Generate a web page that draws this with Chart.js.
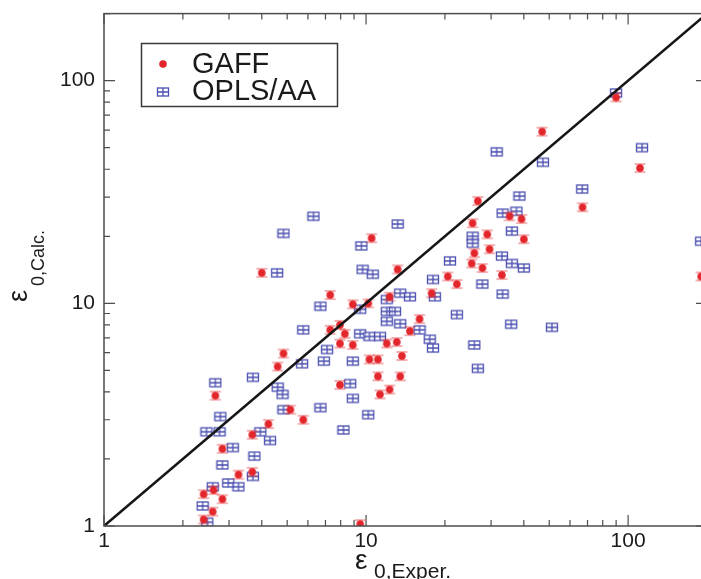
<!DOCTYPE html>
<html>
<head>
<meta charset="utf-8">
<script src="https://cdn.jsdelivr.net/npm/chart.js@4.4.1/dist/chart.umd.min.js"></script>
<style>
  html, body { margin: 0; padding: 0; background: #fff; overflow: hidden; width: 701px; height: 579px; }
  #wrap { width: 712px; height: 579px; }
</style>
</head>
<body>
<div id="wrap"><canvas id="chart" width="712" height="579"></canvas></div>
<script>
var gaffX = [90, 47, 111, 67, 26.7, 35.3, 39.2, 25.5, 10.5, 29, 40, 29.6, 25.9, 25.3, 13.2, 20.5, 22.2, 4.0, 17.8, 33, 27.8,
  7.3, 12.3, 8.9, 10.2, 16, 7.95, 14.7, 8.3, 7.3, 13.1, 12, 8.9, 7.95, 13.7, 10.3, 11.1, 4.84, 4.6, 11.1, 13.5, 7.95,
  12.3, 11.3, 2.66, 5.76, 5.14, 4.24, 3.68, 2.83, 3.26, 3.68, 2.4, 2.83, 2.62, 2.6, 2.4, 9.5, 190];
var gaffY = [84, 59, 40.5, 27, 28.8, 24.6, 23.9, 22.9, 19.6, 20.4, 19.4, 17.5, 16.8, 15.1, 14.2, 13.2, 12.2, 13.7, 11.1, 13.4, 14.4,
  10.9, 10.7, 9.9, 10.0, 8.5, 8.0, 7.5, 7.3, 7.6, 6.7, 6.6, 6.5, 6.6, 5.8, 5.6, 5.6, 5.95, 5.2, 4.7, 4.7, 4.3,
  4.1, 3.9, 3.85, 3.0, 3.33, 2.87, 2.57, 2.22, 1.7, 1.75, 1.39, 1.32, 1.45, 1.16, 1.07, 1.02, 13.2];

var oplsX = [90, 31.5, 47.3, 113, 66.8, 38.5, 33.2, 37.5, 13.2, 36, 9.6, 25.5, 25.5, 33, 36, 40, 20.9, 9.7, 10.6, 18, 27.8,
  6.3, 4.84, 4.58, 33.2, 18.3, 13.5, 14.7, 12, 6.7, 22.2, 35.8, 51.2, 9.5, 12, 12.9, 12, 13.5, 16, 5.76, 9.5, 10.3,
  11.3, 17.5, 18, 25.9, 26.7, 7.1, 6.9, 8.9, 5.7, 2.66, 3.7, 4.6, 4.8, 8.7, 8.9, 6.7, 4.84, 10.2, 2.78, 2.46, 2.76,
  3.95, 8.2, 4.3, 3.1, 3.75, 2.83, 3.7, 2.98, 3.26, 2.6, 2.38, 2.48, 190];
var oplsY = [88, 47.9, 43, 50, 32.6, 30.3, 25.4, 25.9, 22.7, 21.1, 18.1, 20, 18.6, 16.3, 15.1, 14.4, 15.5, 14.2, 13.5, 12.8, 12.2,
  24.6, 20.6, 13.7, 11.0, 10.7, 11.1, 10.7, 10.4, 9.7, 8.9, 8.05, 7.8, 9.4, 9.2, 9.2, 8.3, 8.1, 7.6, 7.6, 7.3, 7.1,
  7.1, 6.9, 6.3, 6.5, 5.1, 6.2, 5.5, 5.5, 5.35, 4.4, 4.65, 4.2, 3.9, 4.36, 3.74, 3.4, 3.33, 3.16, 3.1, 2.65, 2.65,
  2.65, 2.7, 2.42, 2.25, 2.06, 1.88, 1.67, 1.56, 1.5, 1.5, 1.23, 1.04, 19];

var parityLine = [1, 200];
var axisMin = 1, axisMax = 200;
var decadeLabels = [1, 10, 100];

var FONT = '"Liberation Sans", Arial, sans-serif';
var RED = '#e3262b';
var BLUE = '#4a4fb0';

function toPoints(xs, ys) {
  var pts = [];
  for (var i = 0; i < xs.length; i++) pts.push({ x: xs[i], y: ys[i] });
  return pts;
}

// marker images: dot / open square with small error-bar caps
function gaffMarker() {
  var c = document.createElement('canvas');
  c.width = 14; c.height = 14;
  var g = c.getContext('2d');
  g.strokeStyle = 'rgba(227,38,43,0.75)';
  g.lineWidth = 1.2;
  g.beginPath();
  g.moveTo(1.5, 3); g.lineTo(12.5, 3);
  g.moveTo(1.5, 11); g.lineTo(12.5, 11);
  g.moveTo(7, 3); g.lineTo(7, 11);
  g.stroke();
  g.fillStyle = RED;
  g.beginPath(); g.arc(7, 7, 3.8, 0, Math.PI * 2); g.fill();
  return c;
}
function oplsMarker() {
  var c = document.createElement('canvas');
  c.width = 14; c.height = 14;
  var g = c.getContext('2d');
  g.strokeStyle = BLUE;
  g.lineWidth = 1.3;
  g.fillStyle = 'rgba(255,255,255,0.6)';
  g.fillRect(1.5, 3, 11, 8);
  g.strokeRect(1.5, 3, 11, 8);
  g.beginPath();
  g.moveTo(1.5, 7); g.lineTo(12.5, 7);
  g.moveTo(7, 3); g.lineTo(7, 11);
  g.stroke();
  return c;
}
var gaffImg = gaffMarker();
var oplsImg = oplsMarker();

// inward major/minor ticks on all four sides plus the frame
var frameTicks = {
  id: 'frameTicks',
  afterDatasetsDraw: function (chart) {
    var ctx = chart.ctx, a = chart.chartArea;
    var sx = chart.scales.x, sy = chart.scales.y;
    ctx.save();
    ctx.strokeStyle = '#4d4d4d';
    ctx.lineWidth = 1.5;
    ctx.strokeRect(a.left, a.top, a.right - a.left, a.bottom - a.top);
    ctx.lineWidth = 1.2;
    ctx.beginPath();
    for (var d = 1; d <= 100; d *= 10) {
      for (var m = 1; m <= 9; m++) {
        var v = d * m;
        if (v < axisMin || v > axisMax) continue;
        var len = (m === 1) ? 11 : 6;
        var px = sx.getPixelForValue(v);
        ctx.moveTo(px, a.bottom); ctx.lineTo(px, a.bottom - len);
        ctx.moveTo(px, a.top); ctx.lineTo(px, a.top + len);
        var py = sy.getPixelForValue(v);
        ctx.moveTo(a.left, py); ctx.lineTo(a.left + len, py);
        ctx.moveTo(a.right, py); ctx.lineTo(a.right - len, py);
      }
    }
    ctx.stroke();
    ctx.restore();
  }
};

// legend box in upper left + axis titles with subscripts
var extras = {
  id: 'extras',
  afterDraw: function (chart) {
    var ctx = chart.ctx;
    ctx.save();
    ctx.fillStyle = '#fff';
    ctx.fillRect(141, 43, 196, 63);
    ctx.strokeStyle = '#3a3a3a';
    ctx.lineWidth = 1.5;
    ctx.strokeRect(141.5, 43.5, 196, 63);
    ctx.fillStyle = RED;
    ctx.beginPath(); ctx.arc(163, 64, 3.8, 0, Math.PI * 2); ctx.fill();
    ctx.drawImage(oplsImg, 156, 85);
    ctx.fillStyle = '#1a1a1a';
    ctx.font = '29px ' + FONT;
    ctx.textBaseline = 'alphabetic';
    ctx.fillText('GAFF', 192, 73);
    ctx.fillText('OPLS/AA', 192, 100);

    // x title
    ctx.font = '28px ' + FONT;
    ctx.fillText('\u03b5', 355, 569);
    ctx.font = '21px ' + FONT;
    ctx.fillText('0,Exper.', 374, 578);

    // y title
    ctx.save();
    ctx.translate(27, 302);
    ctx.rotate(-Math.PI / 2);
    ctx.font = '27px ' + FONT;
    ctx.fillText('\u03b5', 0, 0);
    ctx.restore();
    ctx.save();
    ctx.translate(44, 286);
    ctx.rotate(-Math.PI / 2);
    ctx.font = '18px ' + FONT;
    ctx.fillText('0,Calc.', 0, 0);
    ctx.restore();
    ctx.restore();
  }
};

function decadeTicks(scale) {
  scale.ticks = decadeLabels.map(function (v) { return { value: v }; });
}

new Chart(document.getElementById('chart'), {
  type: 'scatter',
  data: {
    datasets: [{
      label: 'parity',
      data: toPoints(parityLine, parityLine),
      showLine: true,
      borderColor: '#161616',
      borderWidth: 2.5,
      pointRadius: 0,
      order: 0
    }, {
      label: 'OPLS/AA',
      data: toPoints(oplsX, oplsY),
      pointStyle: oplsImg,
      order: 2
    }, {
      label: 'GAFF',
      data: toPoints(gaffX, gaffY),
      pointStyle: gaffImg,
      order: 1
    }]
  },
  options: {
    responsive: false,
    animation: false,
    layout: { padding: { top: 6, right: 4, left: 0, bottom: 0 } },
    plugins: { legend: { display: false }, tooltip: { enabled: false } },
    scales: {
      x: {
        type: 'logarithmic',
        min: axisMin, max: axisMax,
        grid: { display: false },
        border: { display: false },
        afterBuildTicks: decadeTicks,
        afterFit: function (s) { s.height = 53; },
        ticks: {
          padding: -5,
          maxRotation: 0,
          autoSkip: false,
          color: '#1a1a1a',
          font: { family: FONT, size: 21 },
          callback: function (v) { return String(v); }
        }
      },
      y: {
        type: 'logarithmic',
        min: axisMin, max: axisMax,
        grid: { display: false },
        border: { display: false },
        afterBuildTicks: decadeTicks,
        afterFit: function (s) { s.width = 104; },
        ticks: {
          padding: 1,
          autoSkip: false,
          color: '#1a1a1a',
          font: { family: FONT, size: 21 },
          callback: function (v) { return String(v); }
        }
      }
    }
  },
  plugins: [frameTicks, extras]
});
</script>
</body>
</html>
